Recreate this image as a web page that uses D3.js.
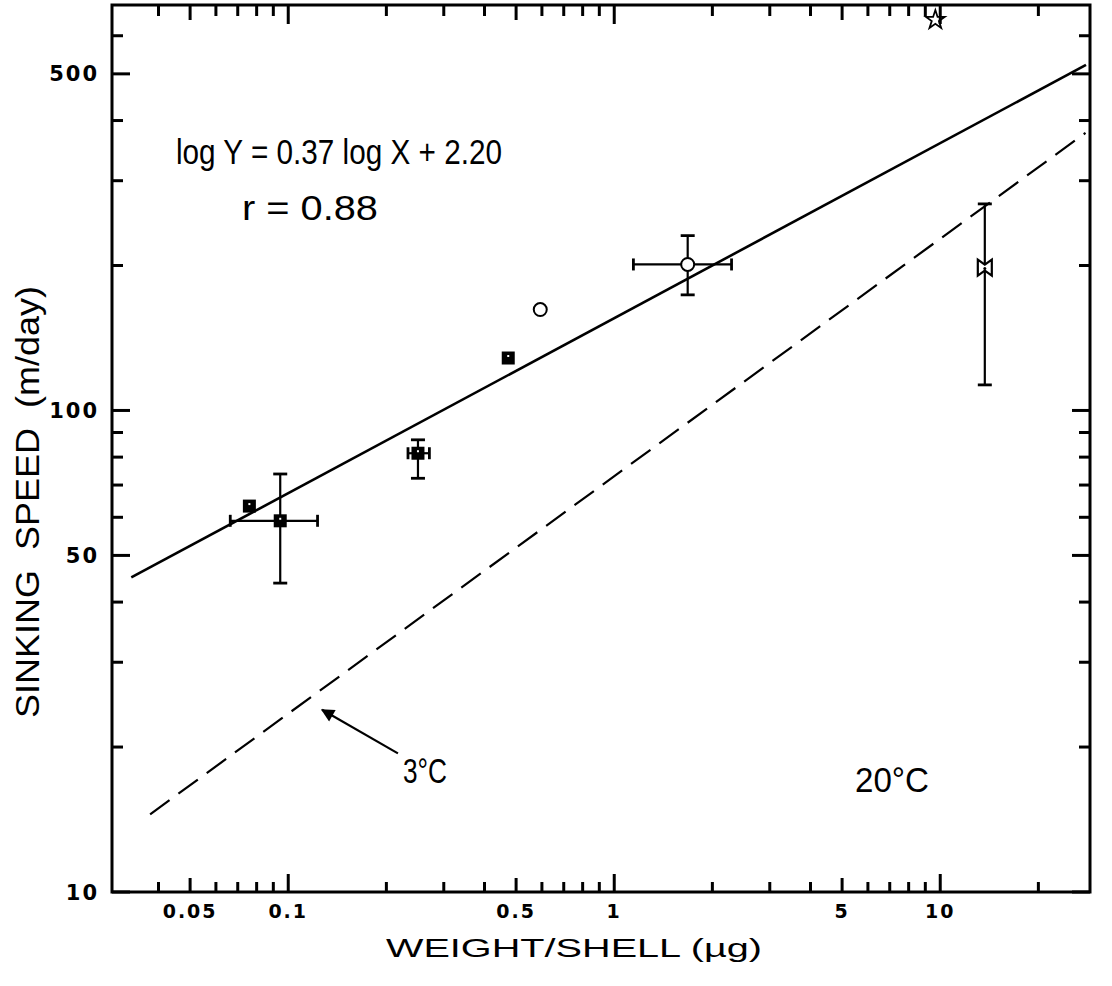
<!DOCTYPE html>
<html>
<head>
<meta charset="utf-8">
<script src="https://cdn.jsdelivr.net/npm/d3@7"></script>
<style>
  body { margin: 0; background: #fff; }
  svg { display: block; }
</style>
</head>
<body>
<svg width="1112" height="986"></svg>
<script>
// measured points: weight per shell (µg) vs sinking speed (m/day)
const pointX = [0.076, 0.0945, 0.25, 0.473, 0.593, 1.68, 13.7, 9.66];
const pointY = [63.3, 59, 81.5, 128.5, 162, 201, 198, 647];
const pointKind = ["filled", "filled", "filled", "filled", "open", "open", "bowtie", "star"];
const xErrLow = [null, 0.0664, 0.233, null, null, 1.145, null, null];
const xErrHigh = [null, 0.123, 0.271, null, null, 2.29, null, null];
const yErrLow = [null, 43.8, 72.3, null, null, 173.8, 113, null];
const yErrHigh = [null, 73.8, 86.9, null, null, 230.7, 268.5, null];

// fitted lines (end points)
const line20X = [0.033, 28];
const line20Y = [45, 522];
const line3X = [0.0377, 27.9];
const line3Y = [14.5, 377];

// arrow pointing at the 3 °C line
const arrowX = [0.217, 0.127];
const arrowY = [19.4, 23.9];

// ticks
const xLabelTicks = [0.05, 0.1, 0.5, 1, 5, 10];
const xMinorTicks = [0.04, 0.06, 0.07, 0.08, 0.09, 0.2, 0.3, 0.4, 0.6, 0.7, 0.8, 0.9,
                     2, 3, 4, 6, 7, 8, 9, 20];
const yLabelTicks = [10, 50, 100, 500];
const yMinorTicks = [20, 30, 40, 60, 70, 80, 90, 200, 300, 400, 600];

const svg = d3.select("svg");

const area = { left: 112, right: 1090, top: 5, bottom: 892 };

const scX = d3.scaleLog().domain([0.0288, 28.8]).range([area.left, area.right]);
const scY = d3.scaleLog().domain([10, 695]).range([area.bottom, area.top]);

function drawFrame() {
  // ticks on all four sides, pointing inwards
  const xLen = v => (Math.abs(Math.log10(v) - Math.round(Math.log10(v))) < 1e-6) ? 18
    : (xLabelTicks.includes(v) ? 14 : 10);
  const allX = xLabelTicks.concat(xMinorTicks);
  allX.forEach(v => {
    const px = scX(v);
    svg.append("line")
      .attr("x1", px).attr("x2", px)
      .attr("y1", area.bottom).attr("y2", area.bottom - xLen(v))
      .attr("stroke", "#000").attr("stroke-width", 3);
    svg.append("line")
      .attr("x1", px).attr("x2", px)
      .attr("y1", area.top).attr("y2", area.top + xLen(v) + 1)
      .attr("stroke", "#000").attr("stroke-width", 3);
  });

  const allY = yLabelTicks.concat(yMinorTicks);
  allY.forEach(v => {
    const py = scY(v);
    const len = yLabelTicks.includes(v) ? 18 : 11;
    svg.append("line")
      .attr("x1", area.left).attr("x2", area.left + len)
      .attr("y1", py).attr("y2", py)
      .attr("stroke", "#000").attr("stroke-width", 3);
    svg.append("line")
      .attr("x1", area.right).attr("x2", area.right - len)
      .attr("y1", py).attr("y2", py)
      .attr("stroke", "#000").attr("stroke-width", 3);
  });

  svg.append("rect")
    .attr("x", area.left).attr("y", area.top)
    .attr("width", area.right - area.left)
    .attr("height", area.bottom - area.top)
    .attr("fill", "none")
    .attr("stroke", "#000")
    .attr("stroke-width", 3);

  // tick labels
  svg.selectAll(".xlab")
    .data(xLabelTicks)
    .enter()
    .append("text")
    .attr("x", d => scX(d))
    .attr("y", 918)
    .attr("text-anchor", "middle")
    .style("font", "bold 19px 'DejaVu Sans'")
    .style("letter-spacing", "2px")
    .text(d => d);

  svg.selectAll(".ylab")
    .data(yLabelTicks)
    .enter()
    .append("text")
    .attr("x", 99)
    .attr("y", d => scY(d))
    .attr("dy", "0.36em")
    .attr("text-anchor", "end")
    .style("font", "bold 21px 'DejaVu Sans'")
    .style("letter-spacing", "2px")
    .text(d => d);

  // axis titles
  svg.append("text")
    .attr("x", 386).attr("y", 957)
    .attr("textLength", 376)
    .attr("lengthAdjust", "spacingAndGlyphs")
    .style("font", "26px 'Liberation Sans'")
    .text("WEIGHT/SHELL (µg)");

  svg.append("text")
    .attr("transform", "translate(39, 718) rotate(-90)")
    .attr("textLength", 432)
    .attr("lengthAdjust", "spacingAndGlyphs")
    .attr("xml:space", "preserve")
    .style("font", "33px 'Liberation Sans'")
    .style("white-space", "pre")
    .text("SINKING  SPEED  (m/day)");
}

function drawLines() {
  const line = d3.line().x(d => scX(d[0])).y(d => scY(d[1]));

  svg.append("path")
    .attr("d", line(d3.zip(line20X, line20Y)))
    .attr("fill", "none")
    .attr("stroke", "#000")
    .attr("stroke-width", 2.6);

  svg.append("path")
    .attr("d", line(d3.zip(line3X, line3Y)))
    .attr("fill", "none")
    .attr("stroke", "#000")
    .attr("stroke-width", 2.2)
    .attr("stroke-dasharray", "24 11");

  // arrow to the dashed line
  svg.append("defs").append("marker")
    .attr("id", "head")
    .attr("viewBox", "0 0 10 10")
    .attr("refX", 9).attr("refY", 5)
    .attr("markerWidth", 7).attr("markerHeight", 6)
    .attr("markerUnits", "strokeWidth")
    .attr("orient", "auto")
    .append("path")
    .attr("d", "M0,0 L10,5 L0,10 Z")
    .attr("fill", "#000");

  svg.append("line")
    .attr("x1", scX(arrowX[0])).attr("y1", scY(arrowY[0]))
    .attr("x2", scX(arrowX[1])).attr("y2", scY(arrowY[1]))
    .attr("stroke", "#000")
    .attr("stroke-width", 2.2)
    .attr("marker-end", "url(#head)");
}

function drawPoints() {
  const data = pointX.map((x, i) => ({
    x: x, y: pointY[i], kind: pointKind[i],
    xl: xErrLow[i], xh: xErrHigh[i], yl: yErrLow[i], yh: yErrHigh[i]
  }));

  // error bars first, markers cover them
  data.forEach(d => {
    const cx = scX(d.x), cy = scY(d.y);
    if (d.yl !== null) {
      const y1 = scY(d.yl), y2 = scY(d.yh);
      svg.append("line").attr("x1", cx).attr("x2", cx).attr("y1", y1).attr("y2", y2)
        .attr("stroke", "#000").attr("stroke-width", 2.2);
      [y1, y2].forEach(yy => svg.append("line")
        .attr("x1", cx - 7).attr("x2", cx + 7).attr("y1", yy).attr("y2", yy)
        .attr("stroke", "#000").attr("stroke-width", 2.8));
    }
    if (d.xl !== null) {
      const x1 = scX(d.xl), x2 = scX(d.xh);
      svg.append("line").attr("x1", x1).attr("x2", x2).attr("y1", cy).attr("y2", cy)
        .attr("stroke", "#000").attr("stroke-width", 2.2);
      [x1, x2].forEach(xx => svg.append("line")
        .attr("x1", xx).attr("x2", xx).attr("y1", cy - 6).attr("y2", cy + 6)
        .attr("stroke", "#000").attr("stroke-width", 2.8));
    }
  });

  data.forEach(d => {
    const g = svg.append("g")
      .attr("transform", `translate(${scX(d.x)}, ${scY(d.y)})`);
    if (d.kind === "filled") {
      g.append("rect").attr("x", -6.5).attr("y", -6.5).attr("width", 13).attr("height", 13)
        .attr("fill", "#000");
      g.append("rect").attr("x", -1).attr("y", -3).attr("width", 2).attr("height", 2)
        .attr("fill", "#fff");
    } else if (d.kind === "open") {
      g.append("circle").attr("r", 6.5)
        .attr("fill", "#fff").attr("stroke", "#000").attr("stroke-width", 2);
    } else if (d.kind === "bowtie") {
      g.append("path")
        .attr("d", "M-7,-8 L0,-3 L7,-8 L7,8 L0,3 L-7,8 Z")
        .attr("fill", "#fff").attr("stroke", "#000").attr("stroke-width", 2.2);
      g.append("circle").attr("r", 1.5).attr("cy", 1).attr("fill", "#000");
    } else if (d.kind === "star") {
      g.append("path")
        .attr("d", d3.symbol(d3.symbolStar, 110)())
        .attr("fill", "#fff").attr("stroke", "#000").attr("stroke-width", 1.8);
    }
  });
}

function drawTexts() {
  svg.append("text")
    .attr("x", 176).attr("y", 164)
    .attr("textLength", 326)
    .attr("lengthAdjust", "spacingAndGlyphs")
    .style("font", "35px 'Liberation Sans'")
    .text("log Y = 0.37 log X + 2.20");

  svg.append("text")
    .attr("x", 242).attr("y", 220)
    .attr("textLength", 136)
    .attr("lengthAdjust", "spacingAndGlyphs")
    .style("font", "35px 'Liberation Sans'")
    .text("r = 0.88");

  svg.append("text")
    .attr("x", 403).attr("y", 783)
    .attr("textLength", 44)
    .attr("lengthAdjust", "spacingAndGlyphs")
    .style("font", "35px 'Liberation Sans'")
    .text("3°C");

  svg.append("text")
    .attr("x", 855).attr("y", 792)
    .attr("textLength", 74)
    .attr("lengthAdjust", "spacingAndGlyphs")
    .style("font", "35px 'Liberation Sans'")
    .text("20°C");
}

drawLines();
drawPoints();
drawFrame();
drawTexts();
</script>
</body>
</html>
